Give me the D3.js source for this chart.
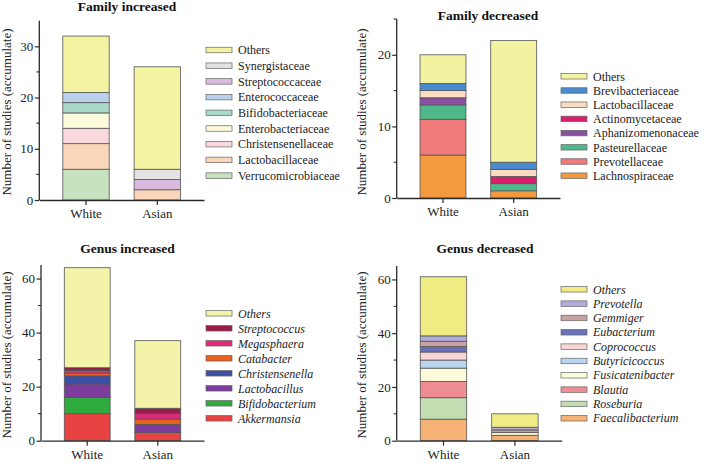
<!DOCTYPE html>
<html><head><meta charset="utf-8">
<script src="https://cdn.jsdelivr.net/npm/d3@7"></script>
<style>body{margin:0;background:#fff}svg{display:block}</style>
</head><body>
<svg id="c" width="708" height="463"></svg>
<script>
const groups = ["White","Asian"];

const famIncTaxa  = ["Verrucomicrobiaceae","Lactobacillaceae","Christensenellaceae","Enterobacteriaceae","Bifidobacteriaceae","Enterococcaceae","Streptococcaceae","Synergistaceae","Others"];
const famIncWhite = [6,5,3,3,2,2,0,0,11];
const famIncAsian = [0,2,0,0,0,0,2,2,20];
const famIncColors = ["#c6e2be","#f9d6b9","#f9d9dd","#fbfadb","#a9d9c8","#b9d1ec","#dbbadf","#e2e2e2","#f3f3a2"];

const famDecTaxa  = ["Lachnospiraceae","Prevotellaceae","Pasteurellaceae","Aphanizomenonaceae","Actinomycetaceae","Lactobacillaceae","Brevibacteriaceae","Others"];
const famDecWhite = [6,5,2,1,0,1,1,4];
const famDecAsian = [1,0,1,0,1,1,1,17];
const famDecColors = ["#f39a40","#ef7b7b","#4fb98b","#8b50a0","#d91e6c","#f9dcc2","#4a8bd0","#f3f2a0"];

const genIncTaxa  = ["Akkermansia","Bifidobacterium","Lactobacillus","Christensenella","Catabacter","Megasphaera","Streptococcus","Others"];
const genIncWhite = [10,6,5,3,1,1,1,37];
const genIncAsian = [3,0,3,0,2,2,2,25];
const genIncColors = ["#e84242","#2faa3c","#7d3b9d","#3c4fa2","#e8621f","#e1297b","#9a1c4a","#f3f3aa"];

const genDecTaxa  = ["Faecalibacterium","Roseburia","Blautia","Fusicatenibacter","Butyricicoccus","Coprococcus","Eubacterium","Gemmiger","Prevotella","Others"];
const genDecWhite = [8,8,6,5,3,3,2,2,2,22];
const genDecAsian = [2,0,0,1,0,0,0,1,1,5];
const genDecColors = ["#f5b274","#c2ddb2","#ef8c92","#fbfad9","#b9d5ef","#f9d6d6","#6971b8","#c9a2a3","#b1addb","#f1eb84"];

const panels = [
  {title:"Family increased", taxa:famIncTaxa, white:famIncWhite, asian:famIncAsian, colors:famIncColors,
   ax:39.3, axEnd:204, yTop:20.7, yBot:200, ymax:35, major:[0,10,20,30], minor:[5,15,25],
   titleX:127, titleY:11, labX:11, labY:112, legX:206, legY:50, legStep:15.7, italic:false},
  {title:"Family decreased", taxa:famDecTaxa, white:famDecWhite, asian:famDecAsian, colors:famDecColors,
   ax:396.7, axEnd:560, yTop:19, yBot:198, ymax:25, major:[0,10,20], minor:[5,15,25],
   titleX:488, titleY:20, labX:366, labY:112, legX:561, legY:76.3, legStep:14.2, italic:false},
  {title:"Genus increased", taxa:genIncTaxa, white:genIncWhite, asian:genIncAsian, colors:genIncColors,
   ax:41, axEnd:204, yTop:265, yBot:440.7, ymax:65, major:[0,20,40,60], minor:[10,30,50],
   titleX:127.5, titleY:253, labX:11, labY:355, legX:206, legY:313.3, legStep:15, italic:true},
  {title:"Genus decreased", taxa:genDecTaxa, white:genDecWhite, asian:genDecAsian, colors:genDecColors,
   ax:396.7, axEnd:561.7, yTop:266, yBot:440.7, ymax:65, major:[0,20,40,60], minor:[10,30,50],
   titleX:485, titleY:253, labX:366, labY:355, legX:561, legY:289.3, legStep:14.33, italic:true}
];

const svg = d3.select("#c");
const FONT = "'Liberation Serif','Times New Roman',serif";
const AX = "#2a2a2a";

panels.forEach(p => {
  const g = svg.append("g");
  const x = d3.scaleBand().domain(groups).range([p.ax, p.axEnd]).paddingInner(0.35).paddingOuter(0.33);
  const y = d3.scaleLinear().domain([0, p.ymax]).range([p.yBot, p.yTop]);

  const rows = groups.map((grp, gi) => {
    const o = {group: grp};
    p.taxa.forEach((t, i) => o[t] = (gi === 0 ? p.white : p.asian)[i]);
    return o;
  });
  const series = d3.stack().keys(p.taxa)(rows);
  const color = d3.scaleOrdinal().domain(p.taxa).range(p.colors);

  series.forEach(s => {
    g.selectAll(null).data(s.filter(d => d[1] - d[0] > 0)).join("rect")
      .attr("x", d => x(d.data.group))
      .attr("width", x.bandwidth())
      .attr("y", d => y(d[1]))
      .attr("height", d => y(d[0]) - y(d[1]))
      .attr("fill", color(s.key))
      .attr("stroke", "#555")
      .attr("stroke-width", 0.8);
  });

  // y axis
  const ya = g.append("g").attr("transform", `translate(${p.ax},0)`)
    .call(d3.axisLeft(y).tickValues(p.major).tickSize(4.5).tickPadding(1.5).tickSizeOuter(0));
  ya.select(".domain").attr("stroke", AX).attr("stroke-width", 1.3);
  ya.selectAll(".tick line").attr("stroke", AX).attr("stroke-width", 1.2);
  ya.selectAll(".tick text").attr("font-family", FONT).attr("font-size", 13).attr("fill", "#222");
  g.selectAll(null).data(p.minor).join("line")
    .attr("x1", p.ax - 3).attr("x2", p.ax).attr("y1", d => y(d)).attr("y2", d => y(d))
    .attr("stroke", AX).attr("stroke-width", 1.1);
  ya.select(".domain").attr("d", `M0,${p.yTop}V${p.yBot}`);

  // x axis
  const xa = g.append("g").attr("transform", `translate(0,${p.yBot})`)
    .call(d3.axisBottom(x).tickSize(5).tickPadding(4).tickSizeOuter(0));
  xa.select(".domain").attr("stroke", AX).attr("stroke-width", 1.3);
  xa.selectAll(".tick line").attr("stroke", AX).attr("stroke-width", 1.2);
  xa.selectAll(".tick text").attr("font-family", FONT).attr("font-size", 13).attr("fill", "#222");

  // title
  g.append("text").attr("x", p.titleX).attr("y", p.titleY).attr("text-anchor", "middle")
    .attr("font-family", FONT).attr("font-weight", "bold").attr("font-size", 13.5).attr("fill", "#111")
    .text(p.title);

  // y label
  g.append("text").attr("transform", `translate(${p.labX},${p.labY}) rotate(-90)`)
    .attr("text-anchor", "middle").attr("font-family", FONT).attr("font-size", 13).attr("fill", "#222")
    .text("Number of studies (accumulate)");

  // legend (top = last stacked)
  const legItems = p.taxa.slice().reverse();
  const lg = g.append("g");
  legItems.forEach((t, i) => {
    const cy = p.legY + i * p.legStep;
    lg.append("rect").attr("x", p.legX).attr("y", cy - 2.75).attr("width", 26).attr("height", 5.5)
      .attr("fill", color(t)).attr("stroke", "#666").attr("stroke-width", 0.7);
    lg.append("text").attr("x", p.legX + 32).attr("y", cy).attr("dy", "0.35em")
      .attr("font-family", FONT).attr("font-size", 12).attr("fill", "#222")
      .attr("font-style", p.italic ? "italic" : "normal")
      .text(t);
  });
});
</script>
</body></html>
